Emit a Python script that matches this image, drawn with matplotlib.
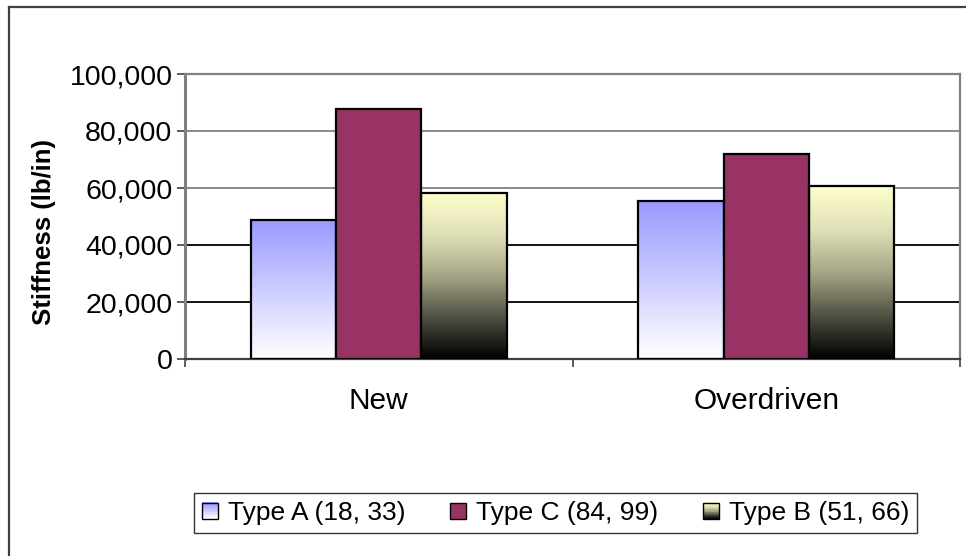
import numpy as np
import matplotlib
matplotlib.use("Agg")
import matplotlib.pyplot as plt
from matplotlib.colors import LinearSegmentedColormap
from matplotlib.patches import Rectangle
from matplotlib.lines import Line2D
from matplotlib.legend_handler import HandlerBase
from matplotlib.ticker import FuncFormatter

# data
categories = ["New", "Overdriven"]
series_names = ["Type A (18, 33)", "Type C (84, 99)", "Type B (51, 66)"]
type_a = [48800, 55500]
type_c = [87600, 72000]
type_b = [58300, 60700]
y_ticks = [0, 20000, 40000, 60000, 80000, 100000]

plt.rcParams["font.family"] = ["Liberation Sans", "DejaVu Sans"]

# gradient fills (value 0 = bar bottom, 1 = bar top)
cmap_a = LinearSegmentedColormap.from_list("a", ["#FFFFFF", "#9999FF"])
cmap_b = LinearSegmentedColormap.from_list(
    "b", [(0, "#000000"), (0.25, "#505044"), (0.5, "#A6A686"),
          (0.75, "#E0E0B8"), (1, "#FFFFCC")])
fills = [cmap_a, "#993366", cmap_b]


class GradientHandler(HandlerBase):
    """legend swatch with a vertical gradient"""
    def __init__(self, fill):
        super().__init__()
        self.fill = fill

    def create_artists(self, legend, orig_handle, xdescent, ydescent,
                       width, height, fontsize, trans):
        s = min(width, height * 0.85)
        x0 = -xdescent + (width - s) / 2
        y0 = -ydescent + (height - s) / 2
        arts = []
        if isinstance(self.fill, str):
            arts.append(Rectangle((x0, y0), s, s, facecolor=self.fill,
                                  edgecolor="none", transform=trans))
        else:
            n = 20
            for i in range(n):
                arts.append(Rectangle((x0, y0 + s * i / n), s, s / n + 0.3,
                                      facecolor=self.fill((i + 0.5) / n),
                                      edgecolor="none", transform=trans))
        arts.append(Rectangle((x0, y0), s, s, facecolor="none",
                              edgecolor="black", linewidth=1.0, transform=trans))
        return arts


fig = plt.figure(figsize=(9.66, 5.56), dpi=100)
ax = fig.add_axes([185 / 966, (556 - 359) / 556, 775 / 966, 285 / 556])

# gridlines: upper ones grey, lower ones black as in the original rendering
grid_colors = {20000: "black", 40000: "black", 60000: "#808080",
               80000: "#808080", 100000: "#808080"}
for v, c in grid_colors.items():
    ax.axhline(v, color=c, linewidth=1.3, zorder=1)

x = np.arange(len(categories))
width = 0.22
offsets = [-width, 0, width]
for vals, off, fill in zip([type_a, type_c, type_b], offsets, fills):
    for xi, v in zip(x, vals):
        left = xi + off - width / 2
        if isinstance(fill, str):
            ax.bar(xi + off, v, width, color=fill, edgecolor="black",
                   linewidth=1.6, zorder=3)
        else:
            grad = np.linspace(0, 1, 256).reshape(-1, 1)
            ax.imshow(grad, cmap=fill, origin="lower", aspect="auto",
                      extent=(left, left + width, 0, v), zorder=2.5,
                      interpolation="bilinear")
            ax.bar(xi + off, v, width, color="none", edgecolor="black",
                   linewidth=1.6, zorder=3)

ax.set_xlim(-0.5, 1.5)
ax.set_ylim(0, 100000)
ax.set_yticks(y_ticks)
ax.yaxis.set_major_formatter(FuncFormatter(lambda v, p: f"{int(v):,}"))
ax.tick_params(axis="y", labelsize=20.5, length=6, width=1.2,
               color="#404040", pad=3)

# category labels centred, ticks on category boundaries
ax.set_xticks([-0.5, 0.5, 1.5])
ax.set_xticklabels([])
ax.set_xticks(x, minor=True)
ax.set_xticklabels(categories, minor=True, fontsize=21.5)
ax.tick_params(axis="x", which="minor", length=0, pad=20)
ax.tick_params(axis="x", which="major", length=6, width=1.2, color="#404040")

for side in ["left", "top", "right"]:
    ax.spines[side].set_color("#808080")
    ax.spines[side].set_linewidth(1.6)
ax.spines["bottom"].set_color("#404040")
ax.spines["bottom"].set_linewidth(1.6)
ax.spines["left"].set_linewidth(2.2)

ax.set_ylabel("Stiffness (lb/in)", fontsize=18.5, fontweight="bold")
ax.yaxis.set_label_coords(-0.166, 0.445)

handles = [Rectangle((0, 0), 1, 1) for _ in series_names]
leg = fig.legend(handles, series_names, ncol=3, fontsize=19,
                 loc="center", bbox_to_anchor=(555.5 / 966, 1 - 513 / 556),
                 handler_map={h: GradientHandler(f) for h, f in zip(handles, fills)},
                 frameon=True, fancybox=False, shadow=False,
                 handlelength=0.6, handletextpad=0.38, columnspacing=1.7,
                 borderpad=0.3, borderaxespad=0.0)
leg.get_frame().set_edgecolor("black")
leg.get_frame().set_linewidth(1.0)

# outer chart border (left and top edges visible)
fig.add_artist(Line2D([9 / 966, 9 / 966], [0, 1 - 7 / 556], transform=fig.transFigure,
                      color="#404040", linewidth=1.6))
fig.add_artist(Line2D([9 / 966, 1], [1 - 7 / 556, 1 - 7 / 556], transform=fig.transFigure,
                      color="#404040", linewidth=1.6))

fig.savefig("out.png", dpi=100)
